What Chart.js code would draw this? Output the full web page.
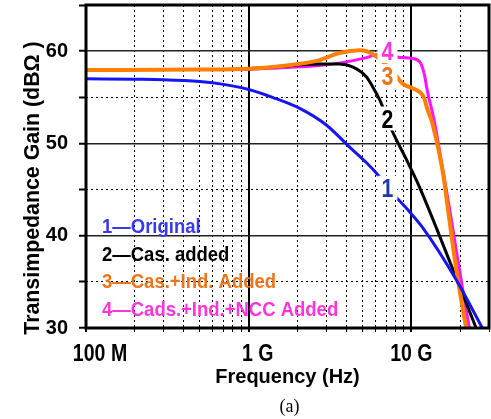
<!DOCTYPE html>
<html>
<head>
<meta charset="utf-8">
<script src="https://cdn.jsdelivr.net/npm/chart.js"></script>
<style>
  html, body { margin: 0; padding: 0; background: #fff; }
  #wrap { position: relative; width: 491px; height: 419px; }
</style>
</head>
<body>
<div id="wrap"><canvas id="chart"></canvas></div>
<script>
// x: frequency (Hz), y: transimpedance gain (dBOhm)
const freqOriginal = [1e8, 2e8, 3e8, 5e8, 7e8, 1e9, 1.4e9, 2.06e9, 3e9, 4.17e9, 5.3e9, 6.37e9, 7.85e9, 9.3e9, 11.7e9, 18.9e9, 27.3e9];
const gainOriginal = [57.0, 56.95, 56.9, 56.7, 56.4, 55.85, 55.0, 53.8, 52.0, 49.6, 47.9, 46.4, 44.4, 43.0, 40.9, 35.2, 30.0];

const freqCas = [1e8, 5e8, 1e9, 1.5e9, 2e9, 2.7e9, 3.6e9, 4.35e9, 5.3e9, 5.8e9, 6.4e9, 7.6e9, 9.3e9, 11.2e9, 18.9e9, 25e9];
const gainCas = [58.0, 58.0, 58.1, 58.3, 58.5, 58.6, 58.6, 58.3, 57.2, 56.1, 54.7, 51.4, 48.3, 45.3, 35.4, 30.0];

const freqCasInd = [1e8, 5e8, 1e9, 1.6e9, 2.7e9, 3.6e9, 4.8e9, 5.3e9, 6.1e9, 7.85e9, 8.8e9, 10.1e9, 11.2e9, 12.0e9, 12.5e9, 13.3e9, 13.8e9, 14.9e9, 15.9e9, 16.6e9, 18.9e9, 21.7e9];
const gainCasInd = [57.95, 58.0, 58.1, 58.4, 59.0, 59.8, 60.1, 60.0, 59.4, 57.6, 56.5, 56.0, 55.6, 54.9, 53.8, 52.5, 51.4, 48.8, 46.0, 43.5, 36.3, 30.0];

const freqNcc = [1e8, 5e8, 1e9, 1.6e9, 2.7e9, 3.6e9, 5.3e9, 6.1e9, 7.0e9, 7.85e9, 8.8e9, 10.1e9, 11.3e9, 12.0e9, 12.5e9, 13.8e9, 15.3e9, 17.1e9, 20.3e9, 22.7e9];
const gainNcc = [58.0, 58.0, 58.05, 58.2, 58.45, 58.7, 59.3, 59.6, 59.6, 59.4, 59.3, 59.2, 58.8, 57.5, 55.8, 52.5, 48.0, 43.1, 35.0, 30.0];

const seriesNames = ['1\u2014Original', '2\u2014Cas. added', '3\u2014Cas.+Ind. Added', '4\u2014Cads.+Ind.+NCC Added'];
const lineColors = ['#1414f5', '#000000', '#ff7f00', '#ff10ff'];
const textColors = ['#3838ee', '#000000', '#ee7418', '#ff33dd'];
const labelColors = ['#2038a8', '#000000', '#ee7418', '#ff33dd'];

// curve number labels, placed in data units
const curveLabelFreq = 7.13e9;
const curveLabelGain = [45.2, 52.7, 57.3, 60.0];

const decadeTicks = [1e8, 1e9, 1e10];
const decadeLabels = ['100 M', '1 G', '10 G'];
const decadeLabelShift = [14, 9, 0];
const yLabelTicks = [30, 40, 50, 60];

const xTicks = [];
for (const d of [1e8, 1e9, 1e10]) {
  for (let k = 1; k <= 9; k++) {
    if (k * d <= 3e10) xTicks.push(k * d);
  }
}

const isDecade = v => Math.abs(Math.log10(v) - Math.round(Math.log10(v))) < 1e-6;
const pts = (xs, ys) => xs.map((x, i) => ({ x: x, y: ys[i] }));
const sans = "'Liberation Sans', Arial, sans-serif";

function condensed(ctx, text, x, y, font, color, sx, align) {
  ctx.save();
  ctx.font = font;
  ctx.fillStyle = color;
  ctx.textAlign = align || 'left';
  ctx.textBaseline = 'alphabetic';
  ctx.translate(x, y);
  ctx.scale(sx, 1);
  ctx.fillText(text, 0, 0);
  ctx.restore();
}

const annotations = {
  id: 'annotations',
  afterDatasetsDraw(chart) {
    const { ctx, chartArea: a, scales } = chart;
    // curve numbers with white patches
    curveLabelGain.forEach((g, i) => {
      const px = scales.x.getPixelForValue(curveLabelFreq);
      const py = scales.y.getPixelForValue(g);
      ctx.save();
      ctx.fillStyle = '#fff';
      ctx.fillRect(px - 10, py - 12, 20, 24);
      ctx.restore();
      condensed(ctx, String(i + 1), px, py + 9, 'bold 25px ' + sans, labelColors[i], 0.85, 'center');
    });
    // legend block
    seriesNames.forEach((name, i) => {
      condensed(ctx, name, a.left + 16, a.bottom - 95 + i * 27.5, 'bold 21px ' + sans, textColors[i], 0.88, 'left');
    });
  },
  afterDraw(chart) {
    const { ctx, chartArea: a, scales } = chart;
    ctx.save();
    ctx.lineWidth = 3;
    ctx.strokeStyle = '#000';
    ctx.strokeRect(a.left, a.top, a.width, a.height);
    ctx.restore();

    // x decade labels (narrow bold)
    decadeTicks.forEach((d, i) => {
      const px = scales.x.getPixelForValue(d) + decadeLabelShift[i];
      condensed(ctx, decadeLabels[i], px, a.bottom + 33, 'bold 23px ' + sans, '#000', 0.85, 'center');
    });

    // y axis title
    ctx.save();
    ctx.translate(a.left - 47, a.bottom - 140);
    ctx.rotate(-Math.PI / 2);
    condensed(ctx, 'Transimpedance Gain (dB\u03A9 )', 0, 0, 'bold 22px ' + sans, '#000', 0.97, 'center');
    ctx.restore();

    // caption
    condensed(ctx, '(a)', (a.left + a.right) / 2 + 2, 412, '18px "Liberation Serif", "Times New Roman", serif', '#000', 1, 'center');
  }
};

new Chart(document.getElementById('chart'), {
  type: 'line',
  data: {
    datasets: [
      { label: seriesNames[0], data: pts(freqOriginal, gainOriginal), borderColor: lineColors[0], borderWidth: 3, order: 0 },
      { label: seriesNames[1], data: pts(freqCas, gainCas), borderColor: lineColors[1], borderWidth: 3, order: 2 },
      { label: seriesNames[2], data: pts(freqCasInd, gainCasInd), borderColor: lineColors[2], borderWidth: 4, order: 1 },
      { label: seriesNames[3], data: pts(freqNcc, gainNcc), borderColor: lineColors[3], borderWidth: 3, order: 3 },
    ],
  },
  options: {
    responsive: true,
    maintainAspectRatio: false,
    animation: false,
    layout: { padding: { top: 5, right: 2, bottom: 0, left: 0 } },
    elements: {
      point: { radius: 0 },
      line: { cubicInterpolationMode: 'monotone', fill: false },
    },
    plugins: {
      legend: { display: false },
      tooltip: { enabled: false },
    },
    scales: {
      x: {
        type: 'logarithmic',
        min: 1e8,
        max: 3e10,
        afterBuildTicks: s => { s.ticks = xTicks.map(v => ({ value: v })); },
        afterFit: s => {
          s.height = 91;
          s.paddingLeft = 0;
          s.paddingRight = 0;
        },
        ticks: { display: false, autoSkip: false, maxRotation: 0 },
        grid: {
          color: '#000',
          lineWidth: c => (c.tick && isDecade(c.tick.value) ? 2 : 1),
          tickLength: 4,
        },
        border: {
          display: false,
          dash: c => (c.tick && !isDecade(c.tick.value) ? [2, 3] : []),
        },
        title: {
          display: true,
          text: 'Frequency (Hz)',
          color: '#000',
          font: { family: sans, size: 20, weight: 'bold' },
          padding: { top: 0, bottom: 30 },
        },
      },
      y: {
        type: 'linear',
        min: 30,
        max: 65,
        afterFit: s => {
          s.width = 86;
          s.paddingTop = 0;
          s.paddingBottom = 0;
        },
        ticks: {
          stepSize: 5,
          padding: 11,
          color: '#000',
          font: { family: sans, size: 20, weight: 'bold' },
          callback: v => (yLabelTicks.includes(v) ? String(v) : ''),
        },
        grid: {
          color: c => (c.tick && c.tick.value % 10 === 0 ? '#222' : '#000'),
          lineWidth: c => (c.tick && c.tick.value % 10 === 0 ? 1.5 : 1),
          tickLength: 7,
          tickWidth: 2,
          tickColor: '#000',
        },
        border: {
          display: false,
          dash: c => (c.tick && c.tick.value % 10 !== 0 ? [2, 3] : []),
        },
      },
    },
  },
  plugins: [annotations],
});
</script>
</body>
</html>
